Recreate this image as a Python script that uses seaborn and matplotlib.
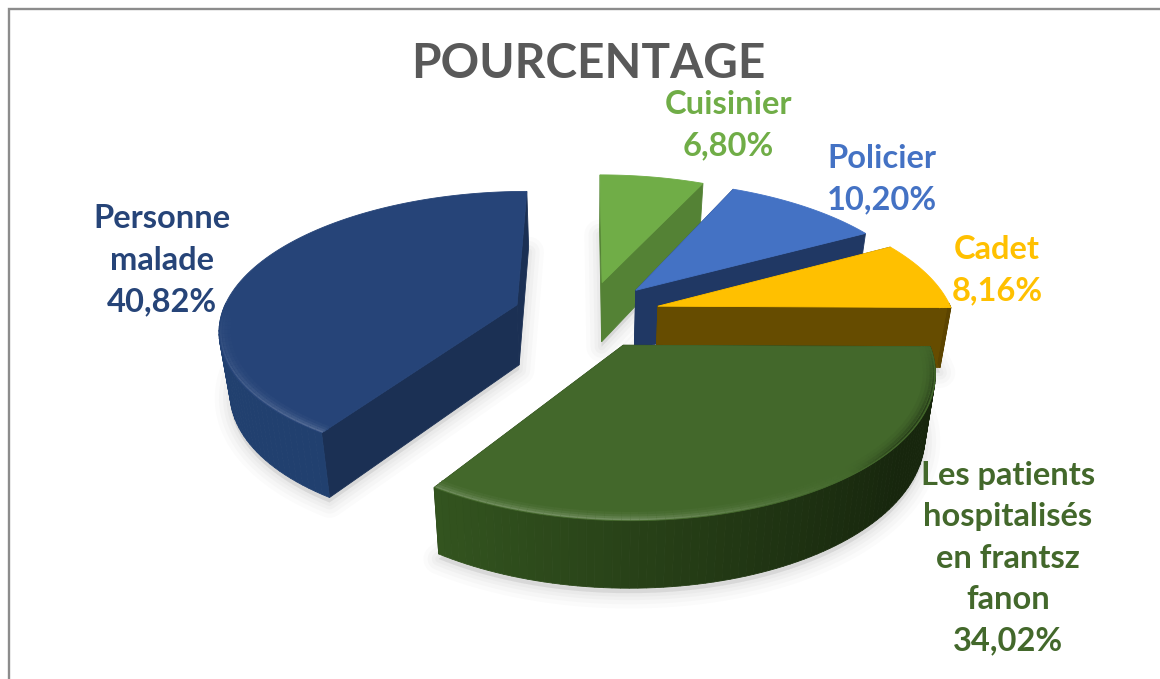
import numpy as np
import matplotlib
matplotlib.use("Agg")
import matplotlib.pyplot as plt
import seaborn as sns
from matplotlib.colors import to_rgb

# counter clockwise from 12 o'clock
categories = ["Personne malade", "Les patients hospitalisés en frantsz fanon", "Cadet", "Policier", "Cuisinier"]
values = [40.82, 34.02, 8.16, 10.20, 6.80]
label_lines = ["Personne\nmalade", "Les patients\nhospitalisés\nen frantsz\nfanon", "Cadet", "Policier", "Cuisinier"]
label_x = [162, 1008, 997, 882, 728]
label_y = [260, 558, 270, 179, 125]
title = "POURCENTAGE"

top_colors = ["#264478", "#43682b", "#ffc000", "#4472c4", "#70ad47"]
face_colors = ["#1b3054", "#1f3311", "#664c00", "#203864", "#548235"]
rim_left = ["#21406f", "#33541f", "#664c00", "#203864", "#548235"]
rim_right = ["#1b3054", "#17260d", "#5c4400", "#203864", "#548235"]
draw_order = [4, 3, 2, 0, 1]

EXPLODE = 0.25
X0, Y0 = 587, 305
SX, SY, PERSP = 292, 132, 0.163
V_SHIFT = 0.07
DEPTH = 60
SHRINK = 0.97

sns.set_theme(style="white")
plt.rcParams["font.family"] = ["Lato", "DejaVu Sans"]

fig, ax = plt.subplots(figsize=(11.6, 6.79), dpi=100)
fig.subplots_adjust(0, 0, 1, 1)
ax.set_xlim(0, 1160)
ax.set_ylim(679, 0)
ax.axis("off")


def project(u, v, low=False):
    w = 1 + PERSP * (v - V_SHIFT)
    x = X0 + SX * u / w
    y = Y0 - SY * (v - V_SHIFT) / w
    if low:
        x = X0 + (x - X0) * SHRINK
        y = y + DEPTH * w ** -0.5
    return x, y


def mix(c1, c2, t):
    c1, c2 = np.array(to_rgb(c1)), np.array(to_rgb(c2))
    return tuple(c1 + (c2 - c1) * t)


def quad(p1, p2, p3, p4, color, z):
    ax.fill([p1[0], p2[0], p3[0], p4[0]], [p1[1], p2[1], p3[1], p4[1]],
            color=color, lw=0.6, zorder=z)


ends = 90 + np.cumsum(values) / sum(values) * 360
starts = np.r_[90, ends[:-1]]

# shadows first
for i in draw_order:
    mid = np.radians((starts[i] + ends[i]) / 2)
    eu, ev = EXPLODE * np.cos(mid), EXPLODE * np.sin(mid)
    th = np.radians(np.linspace(starts[i], ends[i], 80))
    us = np.r_[eu, eu + np.cos(th)]
    vs = np.r_[ev, ev + np.sin(th)]
    x, y = project(us, vs, low=True)
    for lw, a in zip([22, 16, 10, 5], [0.03, 0.035, 0.045, 0.05]):
        ax.fill(x, y + 5, facecolor="#808080", edgecolor="#808080", lw=lw, alpha=a,
                joinstyle="round", zorder=1)

for n, i in enumerate(draw_order):
    z = 10 + n
    mid = np.radians((starts[i] + ends[i]) / 2)
    eu, ev = EXPLODE * np.cos(mid), EXPLODE * np.sin(mid)
    th = np.radians(np.linspace(starts[i], ends[i], 90))
    cu, cv = eu + np.cos(th), ev + np.sin(th)

    # radial faces, the far one first
    for k in sorted([0, -1], key=lambda k: -cv[k]):
        quad(project(eu, ev), project(cu[k], cv[k]),
             project(cu[k], cv[k], True), project(eu, ev, True), face_colors[i], z)
    # rim, only the part turned to the viewer
    for k in np.argsort(-cv[:-1]):
        if np.sin(th[k]) > 0.02:
            continue
        t = np.clip((np.cos(th[k]) + 0.55) / 1.35, 0, 1)
        quad(project(cu[k], cv[k]), project(cu[k + 1], cv[k + 1]),
             project(cu[k + 1], cv[k + 1], True), project(cu[k], cv[k], True),
             mix(rim_left[i], rim_right[i], t), z)

    x, y = project(np.r_[eu, cu], np.r_[ev, cv])
    ax.fill(x, y, color=top_colors[i], lw=0.6, zorder=z + 0.2)

    # bevel on the front edge of the top
    for r, f, lw in [(0.968, 0.12, 3), (0.978, 0.3, 2.5), (0.986, 0.6, 1.8), (0.994, 1.0, 1.2)]:
        bx, by = project(eu + r * np.cos(th), ev + r * np.sin(th))
        for k in range(len(th) - 1):
            sn, cs = np.sin(th[k]), np.cos(th[k])
            if sn >= 0:
                continue
            s = -sn * (1 - 1.6 * max(0, cs))
            if s > 0:
                col = mix(top_colors[i], "#ffffff", 0.25 * s * f)
            else:
                col = mix(top_colors[i], "#000000", 0.7 * min(1, -s * 3) * f)
            ax.plot(bx[k:k + 2], by[k:k + 2], color=col, lw=lw, solid_capstyle="butt",
                    zorder=z + 0.3)

# labels
for i in range(len(values)):
    pct = f"{values[i]:.2f}%".replace(".", ",")
    ax.text(label_x[i], label_y[i], label_lines[i] + "\n" + pct, color=top_colors[i],
            ha="center", va="center", fontsize=23.5, fontweight="bold",
            linespacing=1.52, zorder=40)

ax.text(588, 64, title, color="#595959", ha="center", va="center", fontsize=34.4,
        fontweight="bold", zorder=40)

# chart border, only left and top are inside the picture
ax.plot([8.5, 8.5, 1160], [679, 8.5, 8.5], color="#8c8c8c", lw=1.7, zorder=50,
        solid_joinstyle="miter")

plt.savefig("out.png", dpi=100)
